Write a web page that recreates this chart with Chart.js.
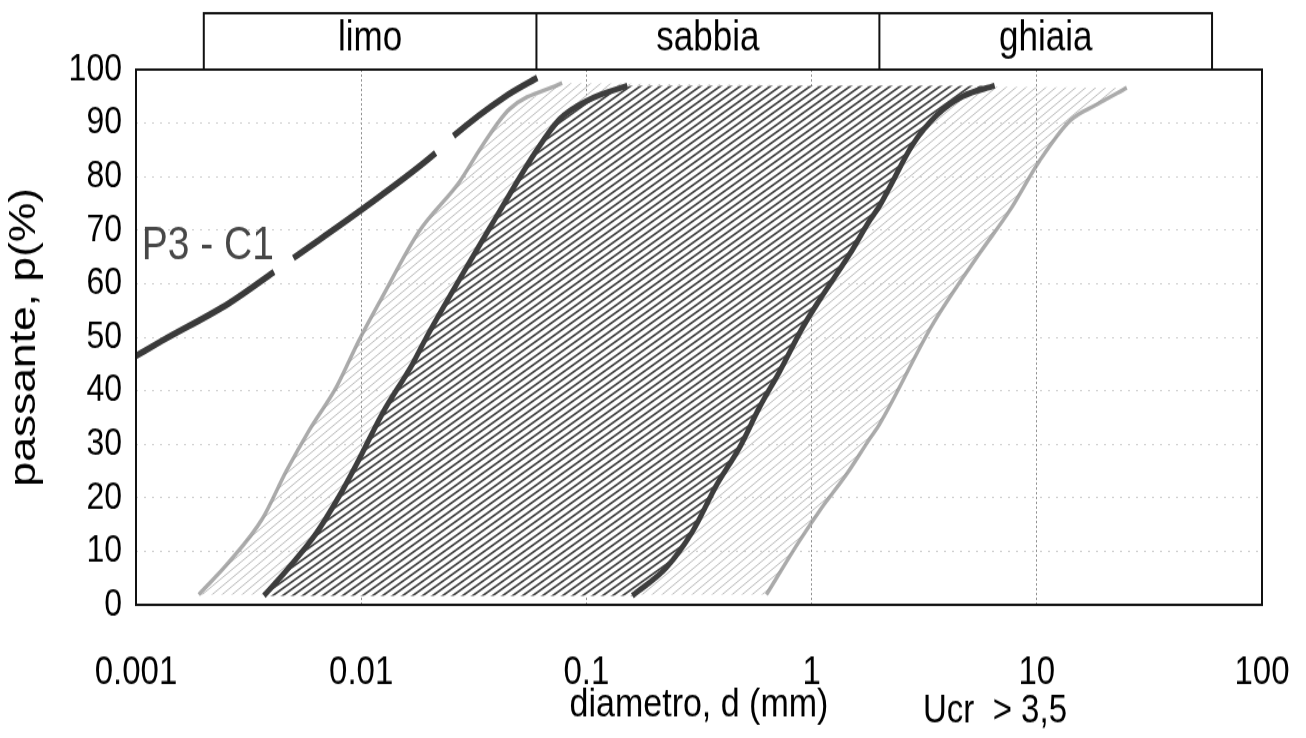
<!DOCTYPE html>
<html>
<head>
<meta charset="utf-8">
<script src="https://cdn.jsdelivr.net/npm/chart.js@4.4.1/dist/chart.umd.min.js"></script>
<style>
  html, body { margin: 0; padding: 0; background: #fff; }
  /* the scanned original is a little taller than wide, so the canvas is stretched vertically */
  #curve-chart { display: block; width: 1306px; height: 738px; }
</style>
</head>
<body>
<canvas id="curve-chart" width="1306" height="615" style="width:1306px;height:738px"></canvas>
<script>
// axis ticks
const xTickValues = [0.001, 0.01, 0.1, 1, 10, 100];
const xTickLabels = ["0.001", "0.01", "0.1", "1", "10", "100"];

// soil classes along the top (mm)
const bandEdges = [0.002, 0.06, 2, 60];
const bandNames = ["limo", "sabbia", "ghiaia"];

// sample curve P3 - C1 (diameter mm, passing %)
const sampleD = [0.001, 0.0013, 0.0026, 0.0041, 0.005, 0.0098, 0.0214, 0.0257, 0.0437, 0.0605];
const sampleP = [46.5, 49.3, 56.4, 62.2, 64.8, 73.5, 84.4, 87.6, 95, 98.5];

// inner envelope (dark hatch)
const innerLeftD = [0.0037, 0.00465, 0.0063, 0.00824, 0.00955, 0.0124, 0.0169, 0.0195, 0.0282, 0.0372, 0.041, 0.0603, 0.0759, 0.103, 0.152];
const innerLeftP = [1.7, 6.4, 13.3, 21.3, 26.3, 35.7, 45, 50, 61.8, 70.4, 73.4, 85, 90.7, 94.4, 97];
const innerRightD = [0.16, 0.227, 0.296, 0.38, 0.479, 0.587, 0.721, 0.912, 1.086, 1.476, 1.81, 2.0, 2.22, 2.81, 3.6, 4.69, 6.5];
const innerRightP = [1.7, 7, 13.7, 22.5, 29.4, 36.9, 43.6, 51.8, 57, 65.5, 71.8, 74.5, 78, 86, 91.5, 95, 97];

// outer envelope (light hatch)
const outerLeftD = [0.0019, 0.00259, 0.00363, 0.00465, 0.00589, 0.00776, 0.0098, 0.0124, 0.0181, 0.0273, 0.0345, 0.0455, 0.078];
const outerLeftP = [1.9, 8, 16, 25, 32.7, 40.7, 49.5, 57.5, 69.8, 79, 85.8, 92.6, 97.5];
const outerRightD = [0.63, 0.885, 1.086, 1.43, 1.81, 2.0, 3.45, 5.58, 7.59, 10.3, 14.0, 18.5, 25.1];
const outerRightP = [1.9, 12, 17.6, 24.4, 31, 33.7, 52.4, 65.7, 73.7, 83, 90.4, 93.5, 96.6];

const FONT = '"Liberation Sans", Arial, sans-serif';

function toPoints(ds, ps) {
  return ds.map((d, i) => ({ x: d, y: ps[i] }));
}

// closed outline: left edge going up, right edge coming back down
function envelope(leftD, leftP, rightD, rightP) {
  return toPoints(leftD, leftP).concat(toPoints(rightD, rightP).reverse());
}

function makeHatch(w, h, bg, color, lw) {
  const c = document.createElement("canvas");
  c.width = w;
  c.height = h;
  const g = c.getContext("2d");
  if (bg) {
    g.fillStyle = bg;
    g.fillRect(0, 0, w, h);
  }
  g.strokeStyle = color;
  g.lineWidth = lw;
  g.beginPath();
  for (const off of [-w, 0, w]) {
    g.moveTo(-w + off, 2 * h);
    g.lineTo(2 * w + off, -h);
  }
  g.stroke();
  return g.createPattern(c, "repeat");
}

const darkHatch = makeHatch(10, 6, "#ffffff", "#404040", 1.7);
const lightHatch = makeHatch(10, 7, null, "#bbbbbb", 1);

const sampleBreaks = [3, 6]; // gaps drawn in the sample line

const annotations = {
  id: "annotations",
  afterDraw(chart) {
    const { ctx, chartArea: a, scales: { x, y } } = chart;
    ctx.save();

    // plot frame
    ctx.strokeStyle = "#111";
    ctx.lineWidth = 2;
    ctx.strokeRect(a.left, a.top, a.right - a.left, a.bottom - a.top);

    // class boxes above the plot
    const top = 11;
    const edges = bandEdges.map((v) => x.getPixelForValue(v));
    ctx.beginPath();
    ctx.moveTo(edges[0], a.top);
    ctx.lineTo(edges[0], top);
    ctx.lineTo(edges[edges.length - 1], top);
    ctx.lineTo(edges[edges.length - 1], a.top);
    for (let i = 1; i < edges.length - 1; i++) {
      ctx.moveTo(edges[i], top);
      ctx.lineTo(edges[i], a.top);
    }
    ctx.stroke();

    ctx.fillStyle = "#000";
    ctx.font = "35px " + FONT;
    ctx.textAlign = "center";
    ctx.textBaseline = "middle";
    bandNames.forEach((name, i) => {
      ctx.fillText(name, (edges[i] + edges[i + 1]) / 2, (top + a.top) / 2 - 2);
    });

    // curve label
    ctx.fillStyle = "#474747";
    ctx.font = "39px " + FONT;
    ctx.textAlign = "left";
    ctx.textBaseline = "alphabetic";
    ctx.fillText("P3 - C1", x.getPixelForValue(0.00106), y.getPixelForValue(64.5));

    // note under the axis
    ctx.fillStyle = "#000";
    ctx.font = "33px " + FONT;
    ctx.textAlign = "center";
    ctx.textBaseline = "middle";
    ctx.fillText("Ucr  > 3,5", 995, 593);

    ctx.restore();
  },
};

const ctx = document.getElementById("curve-chart").getContext("2d");

new Chart(ctx, {
  type: "line",
  data: {
    datasets: [
      {
        label: "P3 - C1",
        data: toPoints(sampleD, sampleP),
        borderColor: "#3a3a3a",
        borderWidth: 5.5,
        cubicInterpolationMode: "monotone",
        fill: false,
        order: 1,
        segment: {
          borderColor: (c) => (sampleBreaks.includes(c.p0DataIndex) ? "rgba(0,0,0,0)" : undefined),
        },
      },
      {
        label: "fuso interno sx",
        data: toPoints(innerLeftD, innerLeftP),
        borderColor: "#3d3d3d",
        borderWidth: 5,
        cubicInterpolationMode: "monotone",
        fill: false,
        order: 2,
      },
      {
        label: "fuso interno dx",
        data: toPoints(innerRightD, innerRightP),
        borderColor: "#3d3d3d",
        borderWidth: 5,
        cubicInterpolationMode: "monotone",
        fill: false,
        order: 2,
      },
      {
        label: "fuso esterno sx",
        data: toPoints(outerLeftD, outerLeftP),
        borderColor: "rgba(150,150,150,0.8)",
        borderWidth: 3.5,
        cubicInterpolationMode: "monotone",
        fill: false,
        order: 3,
      },
      {
        label: "fuso esterno dx",
        data: toPoints(outerRightD, outerRightP),
        borderColor: "rgba(150,150,150,0.8)",
        borderWidth: 3.5,
        cubicInterpolationMode: "monotone",
        fill: false,
        order: 3,
      },
      {
        label: "area interna",
        data: envelope(innerLeftD, innerLeftP, innerRightD, innerRightP),
        borderWidth: 0,
        borderColor: "rgba(0,0,0,0)",
        backgroundColor: darkHatch,
        tension: 0,
        fill: "shape",
        order: 4,
      },
      {
        label: "area esterna",
        data: envelope(outerLeftD, outerLeftP, outerRightD, outerRightP),
        borderWidth: 0,
        borderColor: "rgba(0,0,0,0)",
        backgroundColor: lightHatch,
        tension: 0,
        fill: "shape",
        order: 5,
      },
    ],
  },
  options: {
    responsive: false,
    devicePixelRatio: 1,
    animation: false,
    layout: { padding: { top: 58, right: 44, bottom: 0, left: 0 } },
    elements: { point: { radius: 0, hoverRadius: 0 } },
    plugins: {
      legend: { display: false },
      tooltip: { enabled: false },
    },
    scales: {
      x: {
        type: "logarithmic",
        min: 0.001,
        max: 100,
        afterBuildTicks: (scale) => {
          scale.ticks = xTickValues.map((v) => ({ value: v }));
        },
        afterFit: (scale) => {
          scale.height = 111;
          scale.paddingLeft = 0;
          scale.paddingRight = 0;
        },
        ticks: {
          callback: (v, i) => xTickLabels[i],
          autoSkip: false,
          maxRotation: 0,
          padding: 37,
          color: "#000",
          font: { family: FONT, size: 33 },
        },
        grid: { color: "rgba(110,110,110,0.75)", lineWidth: 1, drawTicks: false },
        border: { display: false, dash: [2, 2] },
        title: {
          display: true,
          text: "diametro, d (mm)",
          color: "#000",
          font: { family: FONT, size: 34 },
          padding: { top: 0, bottom: 7 },
        },
      },
      y: {
        min: 0,
        max: 100,
        afterFit: (scale) => {
          scale.width = 136;
          scale.paddingTop = 0;
          scale.paddingBottom = 0;
        },
        ticks: {
          stepSize: 10,
          padding: 14,
          color: "#000",
          font: { family: FONT, size: 32 },
        },
        grid: { color: "rgba(165,165,165,0.55)", lineWidth: 1, drawTicks: false },
        border: { display: false, dash: [2, 6] },
        title: {
          display: true,
          text: "passante, p(%)",
          color: "#000",
          font: { family: FONT, size: 37 },
          padding: { top: 3, bottom: 0 },
        },
      },
    },
  },
  plugins: [annotations],
});
</script>
</body>
</html>
